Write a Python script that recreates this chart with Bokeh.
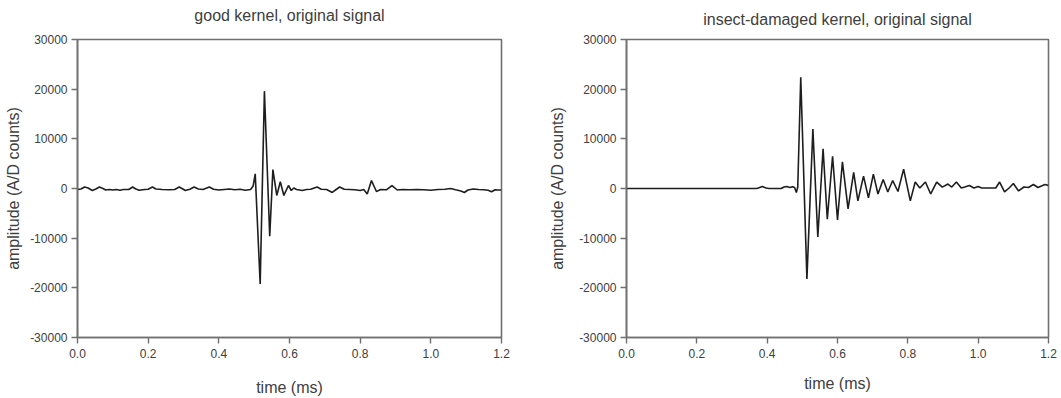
from bokeh.plotting import figure
from bokeh.layouts import row
from bokeh.models import Range1d, FixedTicker, PrintfTickFormatter, LinearAxis
from bokeh.embed import file_html
from bokeh.resources import INLINE

# ---- data ----
x_ticks = [0.0, 0.2, 0.4, 0.6, 0.8, 1.0, 1.2]
y_ticks = [-30000, -20000, -10000, 0, 10000, 20000, 30000]

titles = ["good kernel, original signal", "insect-damaged kernel, original signal"]
x_label = "time (ms)"
y_label = "amplitude (A/D counts)"

t_good = [0.0, 0.01, 0.02, 0.03, 0.042, 0.052, 0.062, 0.072, 0.08, 0.09, 0.10, 0.11, 0.12,
          0.13, 0.145, 0.156, 0.165, 0.175, 0.19, 0.20, 0.212, 0.222, 0.24, 0.26, 0.275,
          0.288, 0.298, 0.305, 0.318, 0.33, 0.342, 0.355, 0.373, 0.385, 0.40, 0.415, 0.43,
          0.445, 0.46, 0.475, 0.49, 0.497, 0.503, 0.517, 0.529, 0.544, 0.553, 0.564, 0.574,
          0.584, 0.597, 0.605, 0.612, 0.62, 0.636, 0.648, 0.66, 0.678, 0.69, 0.705, 0.721,
          0.732, 0.742, 0.755, 0.77, 0.785, 0.80, 0.81, 0.82, 0.832, 0.846, 0.858, 0.875,
          0.89, 0.905, 0.92, 0.94, 0.96, 0.98, 1.0, 1.02, 1.04, 1.056, 1.07, 1.085, 1.095,
          1.105, 1.12, 1.135, 1.15, 1.162, 1.172, 1.182, 1.19, 1.2]
a_good = [-200, -100, 300, 100, -400, -100, 300, 0, -300, -200, -300, -200, -350,
          -200, -200, 300, -100, -350, -200, -150, 300, -100, -200, -250, -200,
          300, -100, -400, -150, 300, -100, -200, 300, -150, -300, -200, -100,
          -250, -150, -350, -200, 500, 2950, -19200, 19600, -9600, 3800, -1400, 1350,
          -1400, 600, -400, 100, -200, -400, -200, -150, 300, -150, -200, -800,
          -200, 300, -150, -200, -250, -400, -200, -1100, 1600, -600, -200, -250,
          600, -300, -200, -250, -200, -250, -350, -200, -150, 0, -250, -500, -800,
          -300, -100, -200, -250, -350, -650, -250, -300, -300]

t_dmg = [0.0, 0.37, 0.375, 0.386, 0.397, 0.405, 0.44, 0.448, 0.455, 0.465, 0.472, 0.478,
         0.483, 0.487, 0.4955, 0.513, 0.530, 0.544, 0.559, 0.571, 0.586, 0.600, 0.614,
         0.630, 0.646, 0.658, 0.674, 0.688, 0.702, 0.715, 0.730, 0.743, 0.757, 0.772,
         0.788, 0.807, 0.821, 0.834, 0.850, 0.865, 0.882, 0.898, 0.914, 0.925, 0.938,
         0.952, 0.962, 0.975, 0.988, 1.0, 1.01, 1.05, 1.061, 1.075, 1.088, 1.10, 1.115,
         1.13, 1.143, 1.157, 1.17, 1.19, 1.2]
a_dmg = [0, 0, 100, 400, 100, 0, 0, 300, 400, 200, 350, 200,
         -800, 300, 22400, -18200, 11950, -9750, 8000, -6200, 6500, -6350, 5350,
         -4100, 3270, -2500, 2500, -1900, 2900, -1100, 1800, -700, 1600, -600,
         3900, -2500, 1300, 100, 1300, -1100, 1300, 270, 900, 300, 1300,
         100, 300, 600, 100, 400, 100, 100, 1300, -700, 100, 1000, -500,
         300, 200, 800, 200, 800, 600]

FONT = "Liberation Sans"
TEXT = "#404040"
FRAME = "#707070"


def make_plot(title, t, a, width, height, left, right, top, bottom,
              title_standoff, xlab_standoff, ylab_standoff):
    p = figure(width=width, height=height, output_backend="svg", toolbar_location=None,
               x_range=Range1d(0, 1.2), y_range=Range1d(-30000, 30000),
               min_border_left=left, min_border_right=right,
               min_border_top=top, min_border_bottom=bottom)
    p.title = None
    p.grid.visible = False
    p.outline_line_color = FRAME
    p.outline_line_width = 1.6
    p.outline_line_alpha = 1.0
    p.background_fill_color = "white"
    p.border_fill_color = "white"

    p.xaxis.ticker = FixedTicker(ticks=x_ticks)
    p.xaxis.formatter = PrintfTickFormatter(format="%.1f")
    p.yaxis.ticker = FixedTicker(ticks=y_ticks)
    p.yaxis.formatter = PrintfTickFormatter(format="%d")
    p.xaxis.axis_label = x_label
    p.yaxis.axis_label = y_label
    for ax in (p.xaxis, p.yaxis):
        ax.axis_line_color = FRAME
        ax.axis_line_width = 1.6
        ax.major_tick_line_color = FRAME
        ax.major_tick_line_width = 1.4
        ax.major_tick_in = 0
        ax.major_tick_out = 6
        ax.minor_tick_line_color = None
        ax.major_label_text_font = FONT
        ax.major_label_text_font_size = "12px"
        ax.major_label_text_color = TEXT
        ax.axis_label_text_font = FONT
        ax.axis_label_text_font_size = "16px"
        ax.axis_label_text_font_style = "normal"
        ax.axis_label_text_color = TEXT
    p.xaxis.major_label_standoff = 5
    p.yaxis.major_label_standoff = 4
    p.xaxis.axis_label_standoff = xlab_standoff
    p.yaxis.axis_label_standoff = ylab_standoff

    # title drawn as the label of an empty axis above the frame
    top_axis = LinearAxis(ticker=FixedTicker(ticks=[]), axis_label=title,
                          axis_line_color=None, major_tick_line_color=None,
                          minor_tick_line_color=None, major_label_text_font_size="0px",
                          major_label_standoff=0, major_tick_out=0, major_tick_in=0,
                          axis_label_standoff=title_standoff,
                          axis_label_text_font=FONT, axis_label_text_font_size="16px",
                          axis_label_text_font_style="normal", axis_label_text_color=TEXT)
    p.add_layout(top_axis, "above")

    p.line(t, a, line_color="#1e1e1e", line_width=1.6)
    return p


p1 = make_plot(titles[0], t_good, a_good, 530, 398, 77, 29, 35, 61, 16, 18, 5)
p2 = make_plot(titles[1], t_dmg, a_dmg, 531, 398, 96, 13, 39, 59, 12, 14, 10)

layout = row(p1, p2)
open("out.html", "w").write(file_html(layout, INLINE))
